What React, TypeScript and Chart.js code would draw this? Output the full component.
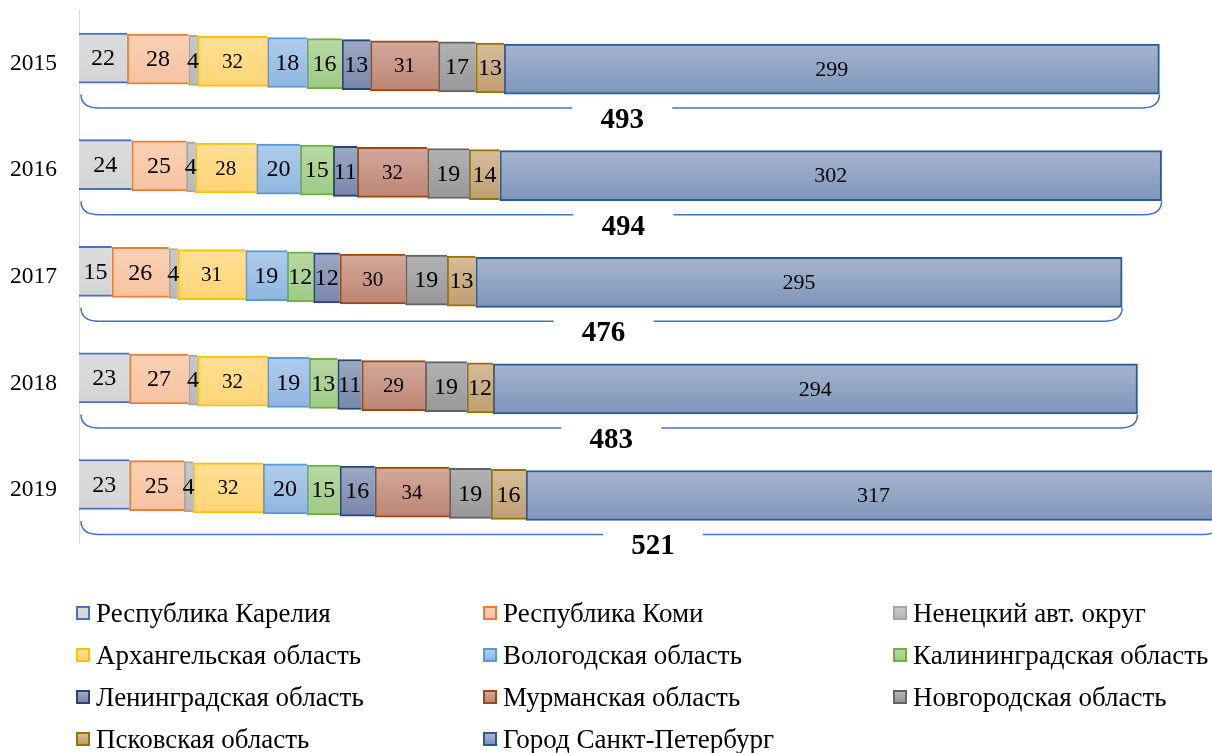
import React, { useEffect, useRef } from "react";
import { Chart, registerables } from "chart.js";

Chart.register(...registerables);

// ---------- data ----------
const years = ["2015", "2016", "2017", "2018", "2019"];
const seriesNames = [
  "Республика Карелия",
  "Республика Коми",
  "Ненецкий авт. округ",
  "Архангельская область",
  "Вологодская область",
  "Калининградская область",
  "Ленинградская область",
  "Мурманская область",
  "Новгородская область",
  "Псковская область",
  "Город Санкт-Петербург",
];
const karelia = [22, 24, 15, 23, 23];
const komi = [28, 25, 26, 27, 25];
const nenets = [4, 4, 4, 4, 4];
const arkhangelsk = [32, 28, 31, 32, 32];
const vologda = [18, 20, 19, 19, 20];
const kaliningrad = [16, 15, 12, 13, 15];
const leningrad = [13, 11, 12, 11, 16];
const murmansk = [31, 32, 30, 29, 34];
const novgorod = [17, 19, 19, 19, 19];
const pskov = [13, 14, 13, 12, 16];
const spb = [299, 302, 295, 294, 317];

const allSeries = [karelia, komi, nenets, arkhangelsk, vologda, kaliningrad, leningrad, murmansk, novgorod, pskov, spb];
const totals = years.map((_, j) => allSeries.reduce((s, a) => s + a[j], 0));

// ---------- styles ----------
const borderColors = ["#4472c4", "#ed7d31", "#a5a5a5", "#ffc000", "#5b9bd5", "#70ad47", "#264478", "#9e480e", "#636363", "#997300", "#2b5c91"];
const fillTop = ["#dcdcdc", "#f9d0b4", "#c9c9c9", "#ffe097", "#b0cdeb", "#b8d9a4", "#9da9c4", "#d2aa9d", "#b3b3b3", "#d7bd9b", "#a4b5cf"];
const fillBottom = ["#d4d4d4", "#f6c3a1", "#b9b9b9", "#ffd476", "#8fb6e0", "#9fca83", "#7886a9", "#bd8472", "#979797", "#be9e71", "#7f95b9"];
const labelSizes = [24, 24, 24, 21, 24, 24, 24, 21, 24, 24, 22];
const FONT = "'Liberation Serif', 'Times New Roman', serif";
const STAGGER = 1.1;
const BAR_H = 50;

const staggerOffset = (i: number) => (i - 5) * STAGGER;

const decorPlugin = {
  id: "decor",
  beforeDatasetDraw(chart: any, args: any) {
    chart.ctx.save();
    chart.ctx.translate(0, staggerOffset(args.index));
  },
  afterDatasetDraw(chart: any) {
    chart.ctx.restore();
  },
  afterDatasetsDraw(chart: any) {
    const ctx = chart.ctx as CanvasRenderingContext2D;
    // segment labels
    allSeries.forEach((series, i) => {
      const meta = chart.getDatasetMeta(i);
      ctx.save();
      ctx.translate(0, staggerOffset(i));
      ctx.font = `${labelSizes[i]}px ${FONT}`;
      ctx.fillStyle = "#000";
      ctx.textAlign = "center";
      ctx.textBaseline = "middle";
      meta.data.forEach((el: any, j: number) => {
        const p = el.getProps(["x", "y", "base"], true);
        ctx.fillText(String(series[j]), (p.x + p.base) / 2, p.y + 1);
      });
      ctx.restore();
    });
    // braces and totals
    const xs = chart.scales.x;
    const ys = chart.scales.y;
    totals.forEach((t, j) => {
      const c = ys.getPixelForValue(j);
      const x0 = xs.getPixelForValue(0) + 2;
      const x1 = xs.getPixelForValue(t);
      const yTop = c + 31;
      const yLine = c + 44.5;
      const r = 18;
      const lx = (x0 + x1) / 2 + 2;
      const ly = c + 57;
      const gap = 50;
      ctx.save();
      ctx.strokeStyle = "#4472c4";
      ctx.lineWidth = 1.5;
      ctx.beginPath();
      ctx.moveTo(x0, yTop);
      ctx.quadraticCurveTo(x0, yLine, x0 + r, yLine);
      ctx.lineTo(lx - gap, yLine);
      ctx.moveTo(lx + gap, yLine);
      ctx.lineTo(x1 - r, yLine);
      ctx.quadraticCurveTo(x1, yLine, x1, yTop);
      ctx.stroke();
      ctx.font = `bold 29px ${FONT}`;
      ctx.fillStyle = "#000";
      ctx.textAlign = "center";
      ctx.textBaseline = "middle";
      ctx.fillText(String(t), lx, ly);
      ctx.restore();
    });
  },
};

function makeGradient(chart: any, dataIndex: number, i: number) {
  const ys = chart.scales && chart.scales.y;
  if (!ys) return fillTop[i];
  const yc = ys.getPixelForValue(dataIndex);
  if (!Number.isFinite(yc)) return fillTop[i];
  const g = chart.ctx.createLinearGradient(0, yc - BAR_H / 2, 0, yc + BAR_H / 2);
  g.addColorStop(0, fillTop[i]);
  g.addColorStop(1, fillBottom[i]);
  return g;
}

export default function App() {
  const ref = useRef<HTMLCanvasElement>(null);

  useEffect(() => {
    const last = allSeries.length - 1;
    const chart = new Chart(ref.current as HTMLCanvasElement, {
      type: "bar",
      data: {
        labels: years,
        datasets: allSeries.map((data, i) => ({
          label: seriesNames[i],
          data,
          backgroundColor: (ctx: any) =>
            ctx.type === "data" ? makeGradient(ctx.chart, ctx.dataIndex, i) : fillTop[i],
          borderColor: borderColors[i],
          borderWidth: { top: 2, bottom: 2, left: i === 0 ? 0 : 2, right: i === last ? 2 : 0 },
          borderSkipped: false,
          barThickness: BAR_H,
        })),
      },
      options: {
        indexAxis: "y",
        responsive: false,
        animation: false,
        layout: { padding: { top: 10.3, bottom: 209.7, left: 0, right: 0 } },
        plugins: { legend: { display: false }, tooltip: { enabled: false } },
        scales: {
          x: { stacked: true, display: false, min: 0, max: 517 },
          y: {
            stacked: true,
            grid: { display: false },
            border: { display: true, color: "#d9d9d9", width: 1 },
            ticks: { color: "#000", font: { family: FONT, size: 23.5 }, padding: 14 },
            afterFit(scale: any) {
              scale.width = 79;
              scale.paddingTop = 0;
              scale.paddingBottom = 0;
            },
          },
        },
      } as any,
      plugins: [decorPlugin],
    });
    return () => chart.destroy();
  }, []);

  const colX = [76, 483, 893];
  const rowCenter0 = 612.7;
  const rowStep = 42;

  return (
    <div style={{ position: "fixed", left: 0, top: 0, width: 1212, height: 753, background: "#fff", overflow: "hidden" }}>
      <canvas ref={ref} width={1212} height={753} style={{ position: "absolute", left: 0, top: 0, display: "block" }} />
      {seriesNames.map((name, i) => {
        const col = i % 3;
        const row = Math.floor(i / 3);
        return (
          <div
            key={name}
            style={{
              position: "absolute",
              left: colX[col],
              top: rowCenter0 + row * rowStep - 21,
              height: 42,
              display: "flex",
              alignItems: "center",
              whiteSpace: "nowrap",
              fontFamily: FONT,
              fontSize: 27,
              color: "#000",
            }}
          >
            <span
              style={{
                display: "inline-block",
                width: 14,
                height: 14,
                boxSizing: "border-box",
                border: `2px solid ${borderColors[i]}`,
                background: `linear-gradient(${fillTop[i]}, ${fillBottom[i]})`,
                marginRight: 6,
              }}
            />
            <span style={{ position: "relative", top: 1 }}>{name}</span>
          </div>
        );
      })}
    </div>
  );
}
